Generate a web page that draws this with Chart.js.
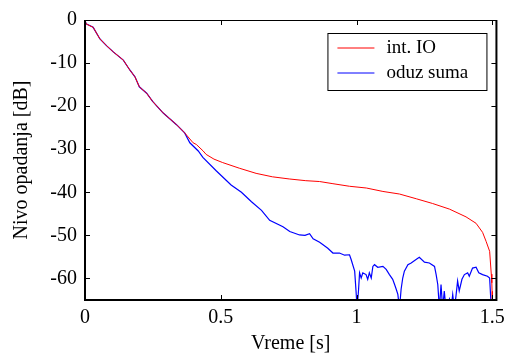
<!DOCTYPE html>
<html>
<head>
<meta charset="utf-8">
<script src="https://cdn.jsdelivr.net/npm/chart.js@4/dist/chart.umd.min.js"></script>
<style>
    html, body { margin: 0; padding: 0; background: #fff; }
    #wrap { width: 511px; height: 356px; }
</style>
</head>
<body>
<div id="wrap"><canvas id="decay" width="511" height="356"></canvas></div>
<script>
// Series
const seriesLabels = ['int. IO', 'oduz suma'];

const timeIO = [0, 0.004, 0.03, 0.055, 0.08, 0.104, 0.141, 0.165, 0.184, 0.2, 0.227, 0.249, 0.288, 0.337, 0.367,
    0.398, 0.41, 0.435, 0.446, 0.475, 0.507, 0.568, 0.63, 0.69, 0.752, 0.813, 0.864, 0.913, 0.974, 1.036,
    1.097, 1.158, 1.22, 1.28, 1.342, 1.403, 1.44, 1.464, 1.477, 1.49, 1.496, 1.498, 1.499, 1.5];
const levelIO = [0, -0.9, -1.7, -4.4, -6, -7.4, -9.3, -11.6, -13.2, -15.5, -17, -18.9, -21.6, -24.3, -26.2,
    -28.5, -28.9, -30.4, -31.2, -32.3, -33.1, -34.4, -35.6, -36.4, -36.9, -37.3, -37.5, -38, -38.6, -39,
    -39.8, -40.4, -41.5, -42.6, -43.9, -45.7, -47.2, -49.3, -51.4, -53.7, -59, -61, -63, -66];

const timeSum = [0, 0.004, 0.03, 0.055, 0.08, 0.104, 0.141, 0.165, 0.184, 0.2, 0.227, 0.249, 0.288, 0.337, 0.367,
    0.386, 0.417, 0.434, 0.483, 0.538, 0.576, 0.613, 0.65, 0.68, 0.729, 0.754, 0.79, 0.81, 0.827, 0.84,
    0.864, 0.894, 0.913, 0.937, 0.956, 0.974, 0.98, 0.993, 0.998, 1.002, 1.007, 1.011, 1.017, 1.023, 1.035,
    1.041, 1.047, 1.054, 1.06, 1.066, 1.078, 1.097, 1.109, 1.121, 1.133, 1.14, 1.146, 1.152, 1.158, 1.164,
    1.17, 1.176, 1.189, 1.201, 1.219, 1.231, 1.25, 1.268, 1.287, 1.293, 1.299, 1.305, 1.311, 1.317, 1.323,
    1.329, 1.342, 1.348, 1.354, 1.36, 1.366, 1.372, 1.378, 1.388, 1.397, 1.409, 1.415, 1.427, 1.44, 1.45,
    1.464, 1.482, 1.49, 1.496];
const levelSum = [0, -0.9, -1.7, -4.4, -6, -7.4, -9.3, -11.6, -13.2, -15.5, -17, -18.9, -21.6, -24.3, -26.2,
    -28.5, -30.4, -31.9, -35, -38.3, -40, -42.2, -44.2, -46.5, -48, -49.1, -49.9, -50, -49.6, -50.8,
    -51.6, -53, -54.1, -54.1, -54.6, -54.5, -55.6, -58.3, -62.9, -67, -62.9, -58.7, -59.9, -58.7, -59.1,
    -60.2, -58.7, -59.9, -57.2, -56.8, -57.4, -57.2, -57.9, -59.1, -60.2, -61.4, -62.5, -63.7, -67, -62.5,
    -59.9, -58.3, -56.8, -56.4, -55.6, -55.1, -56.2, -56.4, -57.2, -59.1, -61.4, -67, -61.4, -67, -62.9,
    -67, -64.8, -67, -63.7, -67, -64.1, -60.6, -62.9, -60.2, -59.1, -58.7, -59.5, -57.6, -57.4, -58.7,
    -59.1, -59.5, -59.9, -67];

const xTicks = [0, 0.5, 1, 1.5];
const yTicks = [0, -10, -20, -30, -40, -50, -60];

const toPoints = (xs, ys) => xs.map((x, i) => ({ x: x, y: ys[i] }));
const serif = 'Liberation Serif, Times New Roman, serif';

// box frame + inward ticks on all four sides, like matlab
const framePlugin = {
    id: 'frame',
    afterDraw(chart) {
        const { ctx, chartArea: a, scales } = chart;
        ctx.save();
        ctx.strokeStyle = '#000';
        ctx.lineWidth = 1;
        ctx.beginPath();
        ctx.moveTo(a.left, a.top + 0.5);
        ctx.lineTo(a.right, a.top + 0.5);
        ctx.stroke();
        ctx.lineWidth = 2;
        ctx.beginPath();
        ctx.moveTo(a.left, a.top);
        ctx.lineTo(a.left, a.bottom);
        ctx.lineTo(a.right, a.bottom);
        ctx.lineTo(a.right, a.top);
        ctx.stroke();

        ctx.lineWidth = 1;
        ctx.beginPath();
        scales.x.ticks.forEach(t => {
            const px = Math.round(scales.x.getPixelForValue(t.value)) + 0.5;
            ctx.moveTo(px, a.bottom); ctx.lineTo(px, a.bottom - 5);
            ctx.moveTo(px, a.top); ctx.lineTo(px, a.top + 5);
        });
        scales.y.ticks.forEach(t => {
            const py = Math.round(scales.y.getPixelForValue(t.value)) + 0.5;
            ctx.moveTo(a.left, py); ctx.lineTo(a.left + 5, py);
            ctx.moveTo(a.right, py); ctx.lineTo(a.right - 5, py);
        });
        ctx.stroke();

        // legend box inside the plot, top right
        const bx = a.right - 169, by = a.top + 13, bw = 159, bh = 57;
        ctx.fillStyle = '#fff';
        ctx.fillRect(bx, by, bw, bh);
        ctx.strokeRect(bx + 0.5, by + 0.5, bw, bh);
        ctx.font = '19px ' + serif;
        ctx.textBaseline = 'middle';
        chart.data.datasets.forEach((ds, i) => {
            const ly = by + 15 + i * 25;
            ctx.strokeStyle = ds.borderColor;
            ctx.beginPath();
            ctx.moveTo(bx + 10, ly);
            ctx.lineTo(bx + 47, ly);
            ctx.stroke();
            ctx.fillStyle = '#000';
            ctx.fillText(ds.label, bx + 59, ly);
        });
        ctx.restore();
    }
};

new Chart(document.getElementById('decay'), {
    type: 'line',
    data: {
        datasets: [{
            label: seriesLabels[0],
            data: toPoints(timeIO, levelIO),
            borderColor: '#ff0000',
            borderWidth: 1,
            pointRadius: 0,
            tension: 0
        }, {
            label: seriesLabels[1],
            data: toPoints(timeSum, levelSum),
            borderColor: '#0000ff',
            borderWidth: 1.2,
            pointRadius: 0,
            tension: 0
        }]
    },
    options: {
        responsive: false,
        animation: false,
        events: [],
        layout: { padding: { top: 16, right: 14, left: 0, bottom: 0 } },
        plugins: {
            legend: { display: false },
            tooltip: { enabled: false }
        },
        scales: {
            x: {
                type: 'linear',
                min: 0,
                max: 1.515,
                afterBuildTicks: s => { s.ticks = xTicks.map(v => ({ value: v })); },
                afterFit: s => { s.height = 56; },
                grid: { display: false, drawTicks: false },
                border: { display: false },
                ticks: {
                    color: '#000',
                    padding: 6,
                    font: { family: serif, size: 20 },
                    callback: v => String(v)
                },
                title: {
                    display: true,
                    text: 'Vreme [s]',
                    color: '#000',
                    font: { family: serif, size: 20 },
                    padding: { top: 0, bottom: 0 }
                }
            },
            y: {
                min: -65,
                max: 0,
                afterBuildTicks: s => { s.ticks = yTicks.map(v => ({ value: v })); },
                afterFit: s => { s.width = 85; },
                grid: { display: false, drawTicks: false },
                border: { display: false },
                ticks: {
                    color: '#000',
                    padding: 8,
                    font: { family: serif, size: 20 },
                    callback: v => String(v)
                },
                title: {
                    display: true,
                    text: 'Nivo opadanja [dB]',
                    color: '#000',
                    font: { family: serif, size: 20 },
                    padding: { top: 10, bottom: 0 }
                }
            }
        }
    },
    plugins: [framePlugin]
});
</script>
</body>
</html>
